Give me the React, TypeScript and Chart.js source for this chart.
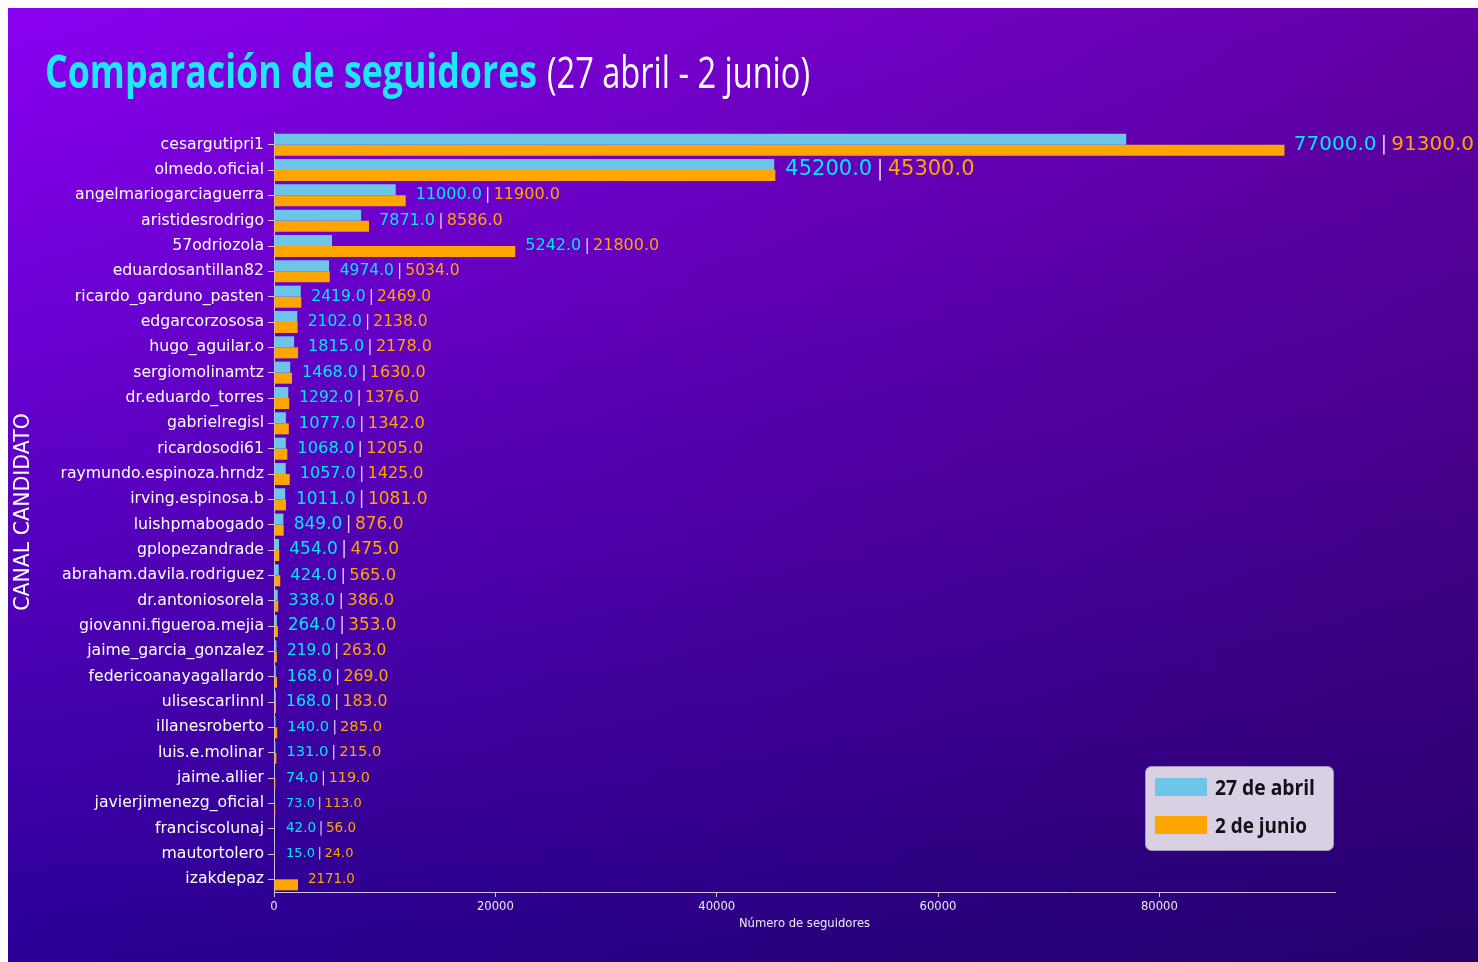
import React, { useEffect, useRef } from "react";
import { Chart, registerables } from "chart.js";

Chart.register(...registerables);

// ---------- data ----------
const CATEGORIES = [
  "cesargutipri1",
  "olmedo.oficial",
  "angelmariogarciaguerra",
  "aristidesrodrigo",
  "57odriozola",
  "eduardosantillan82",
  "ricardo_garduno_pasten",
  "edgarcorzososa",
  "hugo_aguilar.o",
  "sergiomolinamtz",
  "dr.eduardo_torres",
  "gabrielregisl",
  "ricardosodi61",
  "raymundo.espinoza.hrndz",
  "irving.espinosa.b",
  "luishpmabogado",
  "gplopezandrade",
  "abraham.davila.rodriguez",
  "dr.antoniosorela",
  "giovanni.figueroa.mejia",
  "jaime_garcia_gonzalez",
  "federicoanayagallardo",
  "ulisescarlinnl",
  "illanesroberto",
  "luis.e.molinar",
  "jaime.allier",
  "javierjimenezg_oficial",
  "franciscolunaj",
  "mautortolero",
  "izakdepaz",
];

const APRIL_27: (number | null)[] = [
  77000, 45200, 11000, 7871, 5242, 4974, 2419, 2102, 1815, 1468, 1292, 1077, 1068, 1057, 1011,
  849, 454, 424, 338, 264, 219, 168, 168, 140, 131, 74, 73, 42, 15, null,
];

const JUNE_2: (number | null)[] = [
  91300, 45300, 11900, 8586, 21800, 5034, 2469, 2138, 2178, 1630, 1376, 1342, 1205, 1425, 1081,
  876, 475, 565, 386, 353, 263, 269, 183, 285, 215, 119, 113, 56, 24, 2171,
];

const SERIES_LABELS = ["27 de abril", "2 de junio"];
const X_TICKS = [0, 20000, 40000, 60000, 80000];
const TITLE_MAIN = "Comparación de seguidores";
const TITLE_SUB = "(27 abril - 2 junio)";
const X_TITLE = "Número de seguidores";
const Y_TITLE = "CANAL CANDIDATO";

// ---------- styles ----------
const LABEL_FONT_PX = [
  20, 21, 16, 16, 16, 15.5, 15.5, 15.5, 16, 16, 15.5, 16.3, 16.3, 16, 17, 17, 17, 16.4, 16.4,
  16.8, 15.4, 15.7, 15.7, 14.7, 14.7, 14.4, 13, 13.5, 13, 13.4,
];
const BLUE = "#6dc5e8";
const ORANGE = "#ffa500";
const BLUE_TEXT = "#00e6ff";
const SEP_COLOR = "#dcc8f4";
const AXIS_COLOR = "#cfc4e6";
const TICK_TEXT = "#efe9f7";
const TITLE_FONT = "'Open Sans', 'Lato', sans-serif";
const CANVAS_W = 1470;
const CANVAS_H = 954;

const X_MAX = Math.max(...(JUNE_2.filter((v) => v != null) as number[])) * 1.05;

function fitText(
  ctx: CanvasRenderingContext2D,
  text: string,
  x: number,
  y: number,
  font: string,
  width: number,
  color: string
) {
  ctx.save();
  ctx.font = font;
  ctx.textAlign = "left";
  ctx.textBaseline = "alphabetic";
  const w = ctx.measureText(text).width || 1;
  ctx.translate(x, y);
  ctx.scale(width / w, 1);
  ctx.fillStyle = color;
  ctx.fillText(text, 0, 0);
  ctx.restore();
}

const backgroundPlugin = {
  id: "bgGradient",
  beforeDraw(chart: any) {
    const { ctx, width, height } = chart;
    ctx.save();
    const v = ctx.createLinearGradient(0, 0, 0, height);
    v.addColorStop(0, "#8c00f2");
    v.addColorStop(1, "#2a0096");
    ctx.fillStyle = v;
    ctx.fillRect(0, 0, width, height);
    const h = ctx.createLinearGradient(0, 0, width, 0);
    h.addColorStop(0, "rgba(30,0,40,0)");
    h.addColorStop(1, "rgba(30,0,40,0.38)");
    ctx.fillStyle = h;
    ctx.fillRect(0, 0, width, height);
    ctx.restore();
  },
};

const titlePlugin = {
  id: "customTitle",
  afterDraw(chart: any) {
    const { ctx } = chart;
    fitText(ctx, TITLE_MAIN, 37, 80, `bold 46px ${TITLE_FONT}`, 492, "#1ee8f8");
    fitText(ctx, TITLE_SUB, 539, 80, `44px ${TITLE_FONT}`, 263, "#ffffff");
  },
};

const legendPlugin = {
  id: "customLegend",
  afterDraw(chart: any) {
    const { ctx } = chart;
    const bx = 1137,
      by = 758,
      bw = 188,
      bh = 84;
    ctx.save();
    ctx.beginPath();
    ctx.roundRect(bx + 0.5, by + 0.5, bw, bh, 6);
    ctx.fillStyle = "#d9d0e3";
    ctx.fill();
    ctx.strokeStyle = "#a596bb";
    ctx.lineWidth = 1;
    ctx.stroke();
    ctx.restore();
    const widths = [100, 92];
    chart.data.datasets.forEach((ds: any, k: number) => {
      ctx.save();
      ctx.fillStyle = ds.backgroundColor;
      ctx.fillRect(bx + 10, by + 12 + k * 38, 52, 18);
      ctx.restore();
      fitText(ctx, ds.label, bx + 70, by + 29 + k * 38, `bold 21px ${TITLE_FONT}`, widths[k], "#141018");
    });
  },
};

const valueLabelPlugin = {
  id: "valueLabels",
  afterDatasetsDraw(chart: any) {
    const { ctx } = chart;
    const xs = chart.scales.x;
    const ys = chart.scales.y;
    const m0 = chart.getDatasetMeta(0);
    const m1 = chart.getDatasetMeta(1);
    const zero = xs.getPixelForValue(0);
    ctx.save();
    ctx.textBaseline = "middle";
    ctx.textAlign = "left";
    CATEGORIES.forEach((_, i) => {
      const a = APRIL_27[i];
      const b = JUNE_2[i];
      const ends: number[] = [];
      if (a != null) ends.push(m0.data[i].x);
      if (b != null) ends.push(m1.data[i].x);
      const y = ys.getPixelForTick(i);
      const size = LABEL_FONT_PX[i];
      ctx.font = `${size}px 'DejaVu Sans'`;
      const parts: [string, string][] = [];
      if (a != null) parts.push([a.toFixed(1), BLUE_TEXT]);
      if (a != null && b != null) parts.push(["|", SEP_COLOR]);
      if (b != null) parts.push([b.toFixed(1), ORANGE]);
      const gap = size * 0.2;
      const total =
        parts.reduce((s, [t]) => s + ctx.measureText(t).width, 0) + gap * (parts.length - 1);
      let x = Math.max(Math.max(...ends) + 10, zero + 12);
      x = Math.min(x, chart.width - 4 - total);
      parts.forEach(([t, c]) => {
        ctx.fillStyle = c;
        ctx.fillText(t, x, y);
        x += ctx.measureText(t).width + gap;
      });
    });
    ctx.restore();
  },
};

export default function App() {
  const canvasRef = useRef<HTMLCanvasElement | null>(null);

  useEffect(() => {
    document.documentElement.style.overflow = "hidden";
    const canvas = canvasRef.current;
    if (!canvas) return;
    const chart = new Chart(canvas, {
      type: "bar",
      data: {
        labels: CATEGORIES,
        datasets: [
          {
            label: SERIES_LABELS[0],
            data: APRIL_27,
            backgroundColor: BLUE,
            borderWidth: 0,
            barPercentage: 1,
            categoryPercentage: 0.87,
          },
          {
            label: SERIES_LABELS[1],
            data: JUNE_2,
            backgroundColor: ORANGE,
            borderWidth: 0,
            barPercentage: 1,
            categoryPercentage: 0.87,
          },
        ],
      },
      options: {
        responsive: false,
        animation: false,
        indexAxis: "y",
        layout: { padding: { top: 124, right: 143, bottom: 23, left: 0 } },
        plugins: {
          legend: { display: false },
          title: { display: false },
          tooltip: { enabled: false },
        },
        scales: {
          x: {
            type: "linear",
            min: 0,
            max: X_MAX,
            afterBuildTicks: (s: any) => {
              s.ticks = X_TICKS.map((v) => ({ value: v }));
            },
            afterFit: (s: any) => {
              s.height = 47;
            },
            grid: {
              display: true,
              drawOnChartArea: false,
              drawTicks: true,
              tickLength: 5,
              color: AXIS_COLOR,
            },
            border: { display: true, color: AXIS_COLOR, width: 1 },
            ticks: {
              color: TICK_TEXT,
              font: { family: "'DejaVu Sans'", size: 11.6 },
              padding: 3,
              maxRotation: 0,
              callback: (v: any) => String(v),
            },
            title: {
              display: true,
              text: X_TITLE,
              color: TICK_TEXT,
              font: { family: "'DejaVu Sans'", size: 11.6 },
              padding: { top: 0, bottom: 8 },
            },
          },
          y: {
            type: "category",
            afterFit: (s: any) => {
              s.width = 266;
            },
            grid: {
              display: true,
              drawOnChartArea: false,
              drawTicks: true,
              tickLength: 6,
              offset: false,
              color: AXIS_COLOR,
            },
            border: { display: true, color: AXIS_COLOR, width: 1 },
            ticks: {
              color: "#ffffff",
              font: { family: "'DejaVu Sans'", size: 15.7 },
              padding: 4,
              autoSkip: false,
            },
            title: {
              display: true,
              text: Y_TITLE,
              color: "#ffffff",
              font: { family: "'DejaVu Sans'", size: 20.5 },
              padding: { top: 3, bottom: 0 },
            },
          },
        },
      } as any,
      plugins: [backgroundPlugin, valueLabelPlugin, titlePlugin, legendPlugin],
    });
    return () => chart.destroy();
  }, []);

  return (
    <canvas
      ref={canvasRef}
      width={CANVAS_W}
      height={CANVAS_H}
      style={{
        display: "block",
        position: "absolute",
        left: 8,
        top: 8,
        width: CANVAS_W,
        height: CANVAS_H,
      }}
    />
  );
}
